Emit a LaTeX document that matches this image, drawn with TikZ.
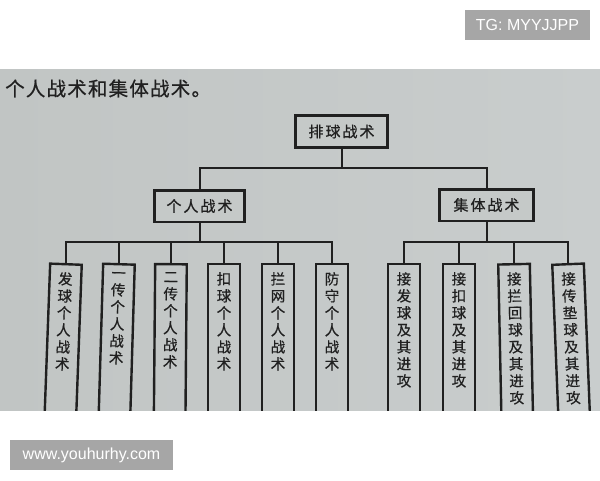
\documentclass[tikz,border=0pt]{standalone}
\usepackage{fontspec}
\setmainfont{Liberation Sans}
\newfontfamily\cjk{Noto Sans CJK SC}
\newfontfamily\cjkb[FakeBold=0.6]{Noto Sans CJK SC}
\definecolor{photoL}{RGB}{193,197,196}
\definecolor{photoR}{RGB}{201,205,205}
\definecolor{photo}{RGB}{197,201,200}
\definecolor{ink}{RGB}{32,32,32}
\definecolor{wmgray}{RGB}{166,166,166}
\newcommand{\leaftext}[1]{\parbox[t][168pt][t]{20pt}{\centering #1}}
\newcommand{\tsp}{\hspace{1.2pt}}
\begin{document}
\begin{tikzpicture}[x=1pt,y=-1pt,
  conn/.style={draw=ink,line width=2pt},
  bigbox/.style={draw=ink,line width=2.6pt,fill=photo,minimum height=31.6pt,inner sep=0pt,text=ink,font=\cjkb\fontsize{15}{16}\selectfont},
  leaf/.style={draw=ink,line width=2.4pt,anchor=north,minimum width=31.6pt,inner xsep=0pt,inner ysep=8pt,text=ink,font=\cjkb\fontsize{14.5}{17}\selectfont},
  wm/.style={fill=wmgray,text=white,font=\fontsize{16}{18}\selectfont,inner sep=0pt}
]
\useasboundingbox (0,0) rectangle (600,480);
\fill[white] (0,0) rectangle (600,480);
\shade[left color=photoL,right color=photoR] (0,69) rectangle (600,410);
\begin{scope}
\clip (0,69) rectangle (600,410);
\node[anchor=west,text=ink,font=\cjkb\fontsize{19.5}{20}\selectfont,inner sep=0pt] (title) at (5,88.5) {个\tsp 人\tsp 战\tsp 术\tsp 和\tsp 集\tsp 体\tsp 战\tsp 术\tsp 。};
\node[bigbox,minimum width=92.4pt] (root) at (341.5,131.5) {排\hspace{2pt}球\hspace{2pt}战\hspace{2pt}术};
\node[bigbox,minimum width=90.4pt] (ind) at (199.5,206) {个\hspace{2pt}人\hspace{2pt}战\hspace{2pt}术};
\node[bigbox,minimum width=94.4pt] (grp) at (486.5,205) {集\hspace{2pt}体\hspace{2pt}战\hspace{2pt}术};
\coordinate (j0) at (341.5,167.5);
\coordinate (j1) at (0,242);
% leaves of the individual group
\node[leaf,rotate=-2.1] (a1) at (66,263) {\leaftext{发\\球\\个\\人\\战\\术}};
\node[leaf,rotate=-1.7] (a2) at (119,263) {\leaftext{一\\传\\个\\人\\战\\术}};
\node[leaf,rotate=-0.5] (a3) at (171,263) {\leaftext{二\\传\\个\\人\\战\\术}};
\node[leaf] (a4) at (224,263) {\leaftext{扣\\球\\个\\人\\战\\术}};
\node[leaf] (a5) at (278,263) {\leaftext{拦\\网\\个\\人\\战\\术}};
\node[leaf] (a6) at (332,263) {\leaftext{防\\守\\个\\人\\战\\术}};
% leaves of the group
\node[leaf] (b1) at (404,263) {\leaftext{接\\发\\球\\及\\其\\进\\攻}};
\node[leaf] (b2) at (459,263) {\leaftext{接\\扣\\球\\及\\其\\进\\攻}};
\node[leaf,rotate=1.2] (b3) at (514,263) {\leaftext{接\\拦\\回\\球\\及\\其\\进\\攻}};
\node[leaf,rotate=2.3] (b4) at (568,263) {\leaftext{接\\传\\垫\\球\\及\\其\\进\\攻}};
% connectors
\draw[conn] (root.south) -- (j0);
\draw[conn] (ind.north) -- (ind.north |- j0) -| (grp.north);
\draw[conn] (ind.south) -- (ind.south |- j1);
\draw[conn] (a1.north) -- (a1.north |- j1) -| (a6.north);
\foreach \n in {a2,a3,a4,a5}{\draw[conn] (\n.north) -- (\n.north |- j1);}
\draw[conn] (grp.south) -- (grp.south |- j1);
\draw[conn] (b1.north) -- (b1.north |- j1) -| (b4.north);
\foreach \n in {b2,b3}{\draw[conn] (\n.north) -- (\n.north |- j1);}
\end{scope}
\node[wm,minimum width=125pt,minimum height=30pt] (tg) at (527.5,25) {TG: MYYJJPP};
\node[wm,minimum width=163pt,minimum height=30pt] (www) at (91.5,455) {www.youhurhy.com};
\end{tikzpicture}
\end{document}
